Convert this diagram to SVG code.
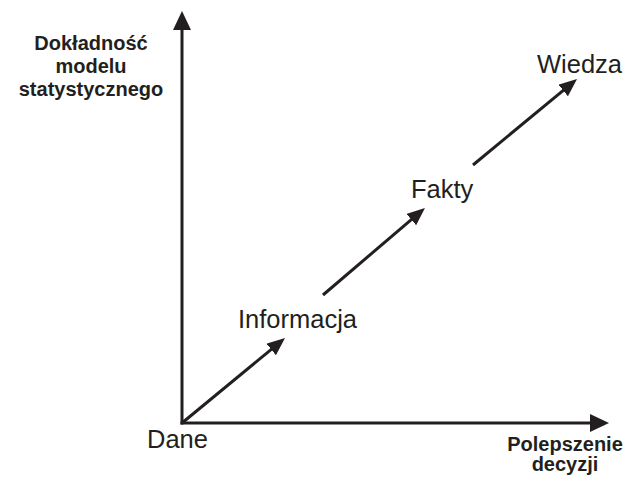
<svg xmlns="http://www.w3.org/2000/svg" width="630" height="479" viewBox="0 0 630 479">
<style>
.ln{stroke:#231f20;stroke-width:3;fill:none}
.lbl{font-family:"Liberation Sans",Arial,sans-serif;font-size:25.5px;fill:#231f20}
.ax{font-family:"Liberation Sans",Arial,sans-serif;font-size:20px;font-weight:bold;fill:#231f20;text-anchor:middle}
</style>
<defs>
<marker id="axh" markerUnits="userSpaceOnUse" markerWidth="20" markerHeight="19" refX="13" refY="9" orient="auto"><path d="M0,0 L19,9 L0,18 z" fill="#231f20"/></marker>
<marker id="arh" markerUnits="userSpaceOnUse" markerWidth="19" markerHeight="16" refX="12" refY="7.5" orient="auto"><path d="M0,0 L18,7.5 L0,15 z" fill="#231f20"/></marker>
</defs>
<rect width="630" height="479" fill="#ffffff"/>
<g id="connectors">
<line class="ln" x1="182" y1="424.5" x2="182" y2="17" marker-end="url(#axh)"/>
<line class="ln" x1="180.5" y1="423" x2="603" y2="423" marker-end="url(#axh)"/>
<line class="ln" x1="182" y1="423" x2="280.4" y2="341.8" marker-end="url(#arh)"/>
<line class="ln" x1="323" y1="295" x2="420.4" y2="211.8" marker-end="url(#arh)"/>
<line class="ln" x1="473" y1="165" x2="572.4" y2="82.8" marker-end="url(#arh)"/>
</g>
<g id="node-dane"><text class="lbl" x="147" y="448">Dane</text></g>
<g id="node-informacja"><text class="lbl" x="238" y="328">Informacja</text></g>
<g id="node-fakty"><text class="lbl" x="411" y="198">Fakty</text></g>
<g id="node-wiedza"><text class="lbl" x="537" y="73">Wiedza</text></g>
<g id="axis-y-label"><text class="ax" x="91" y="50">Dokładność</text><text class="ax" x="91" y="73">modelu</text><text class="ax" x="91" y="96">statystycznego</text></g>
<g id="axis-x-label"><text class="ax" x="565" y="451">Polepszenie</text><text class="ax" x="565" y="471">decyzji</text></g>
</svg>
